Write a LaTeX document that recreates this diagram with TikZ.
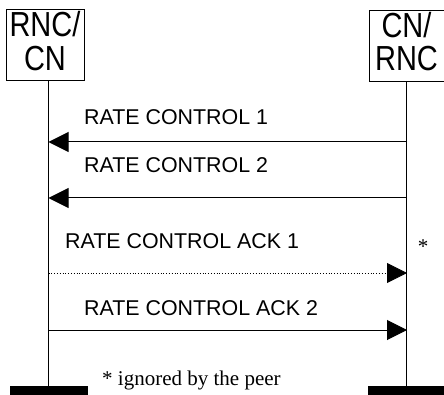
\documentclass[tikz,border=0pt]{standalone}
\usepackage{fontspec}
\setmainfont{Liberation Sans}
\newfontfamily\seriffont{Liberation Serif}
\usetikzlibrary{arrows.meta}
\begin{document}
\begin{tikzpicture}[x=1pt,y=-1pt,
  entity/.style={draw, line width=1pt, inner sep=0pt, minimum width=#1, minimum height=71pt},
  bar/.style={fill=black, inner sep=0pt, minimum height=9.5pt, minimum width=#1},
  life/.style={line width=1pt},
  msg/.style={line width=1pt, -{Triangle[length=20pt,width=20pt]}},
  dotmsg/.style={line width=0.8pt, dotted, -{Triangle[length=20pt,width=20pt]}},
  lbl/.style={font=\fontsize{21.4}{24}\selectfont, inner sep=0pt, anchor=west},
  note/.style={font=\seriffont\fontsize{21}{24}\selectfont, inner sep=0pt}]
\useasboundingbox (0,0) rectangle (444,395);
\node[entity=78pt] (L) at (45,45.5) {\scalebox{1}[1.2]{\fontsize{29}{25}\selectfont\begin{tabular}{@{}c@{}}RNC/\\CN\end{tabular}}};
\node[entity=75pt] (R) at (406.5,46) {\scalebox{1}[1.2]{\fontsize{29}{25}\selectfont\begin{tabular}{@{}c@{}}CN/\\RNC\end{tabular}}};
\node[bar=78pt] (LB) at (48.5,390.5) {};
\node[bar=77pt] (RB) at (406.5,390.5) {};
\draw[life] (LB.north |- L.south) -- (LB.north);
\draw[life] (RB.north |- R.south) -- (RB.north);
\coordinate (r1) at (407,142); \coordinate (l1) at (48.5,142);
\coordinate (r2) at (407,198); \coordinate (l2) at (48.5,198);
\coordinate (l3) at (48.5,273); \coordinate (r3) at (407,273);
\coordinate (l4) at (48.5,330); \coordinate (r4) at (407,330);
\draw[msg] (r1) -- (l1);
\draw[msg] (r2) -- (l2);
\draw[dotmsg] (l3) -- (r3);
\draw[msg] (l4) -- (r4);
\node[lbl] (t1) at (84,117) {RATE CONTROL 1};
\node[lbl] (t2) at (84,165) {RATE CONTROL 2};
\node[lbl] (t3) at (65,241) {RATE CONTROL ACK 1};
\node[lbl] (t4) at (84,308) {RATE CONTROL ACK 2};
\node[note] (star) at (423,247) {*};
\node[note, anchor=base west] (fn) at (102,385) {* ignored by the peer};
\end{tikzpicture}
\end{document}
